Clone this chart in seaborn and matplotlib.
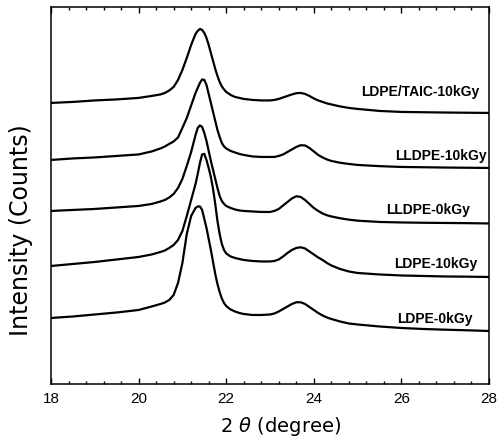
import numpy as np
import pandas as pd
import matplotlib
matplotlib.use('Agg')
import matplotlib.pyplot as plt
import matplotlib.ticker as mtick
import seaborn as sns

# 2 theta grid (degree), shared by all patterns
two_theta = [18.0, 18.5, 19.0, 19.5, 20.0, 20.3, 20.5, 20.6, 20.7, 20.8,
             20.9, 21.0, 21.1, 21.2, 21.3, 21.35, 21.4, 21.45, 21.5, 21.55,
             21.6, 21.65, 21.7, 21.75, 21.8, 21.85, 21.9, 21.95, 22.0, 22.1,
             22.2, 22.3, 22.4, 22.6, 22.8, 23.0, 23.1, 23.2, 23.3, 23.4,
             23.5, 23.6, 23.7, 23.8, 23.9, 24.0, 24.1, 24.2, 24.3, 24.4,
             24.6, 24.8, 25.0, 25.5, 26.0, 26.5, 27.0, 27.5, 28.0]

# intensities (counts, offset for stacking)
ldpe_taic_10 = [281, 282, 283.5, 284.5, 286, 288, 289.5, 291, 293.5, 297,
                304, 314, 326, 339, 350, 353, 355, 354, 351, 346,
                339, 331, 323, 315, 308, 302, 297.5, 294.5, 292, 289,
                287, 286, 285, 284, 283.5, 283.5, 284, 285, 286.5, 288,
                289.5, 290.7, 291, 290, 288, 285.5, 283.5, 282, 280.5, 279.5,
                277.5, 276, 275, 273, 272, 271.7, 271.4, 271.2, 271]
lldpe_10 = [224, 225.5, 226.5, 228, 229.5, 232.5, 235.5, 237.5, 240, 242.5,
            246.5, 256, 266, 278.5, 291, 296, 301, 304.5, 304, 299,
            290, 281, 272, 263, 254, 247, 241, 237.5, 235.5, 233,
            231.5, 230, 229, 227.5, 227, 227, 227, 228, 229.5, 232,
            234.5, 237, 238.7, 238.5, 236, 232.5, 229, 226.5, 224.5, 223,
            221.2, 220, 219, 217.8, 217, 216.7, 216.4, 216.2, 216]
lldpe_0 = [173, 174, 175, 176.5, 178, 180, 182.5, 184, 186.5, 190,
           196, 205, 218, 232, 249, 256, 258.5, 257, 251, 243,
           233, 223, 214, 205, 196, 188, 183, 180, 178, 176,
           174.5, 173.5, 173, 172.5, 172, 172, 173, 175, 178.5, 182,
           185.5, 187.7, 187, 184, 180, 176, 173, 170.5, 168.7, 167.5,
           165.7, 164.3, 163.3, 162, 161.5, 161.2, 161, 160.8, 160.5]
ldpe_10 = [118, 120, 122, 124.5, 127, 129.5, 132, 133.5, 136, 139,
           144, 153, 168, 184, 200, 210, 221, 229.5, 230, 224,
           216, 207, 195, 180, 163, 150, 140, 134, 130.5, 127.5,
           126, 125, 124, 123, 122.5, 122.5, 123, 124.5, 127.5, 131,
           134, 136, 136.7, 135.5, 132.5, 129.5, 126.5, 124, 121, 118.5,
           115, 112.5, 111, 109.5, 108.5, 108, 107.5, 107.3, 107]
ldpe_0 = [66, 67.5, 69.5, 71.5, 74, 77.5, 80, 81.5, 84, 89,
          101, 121, 150, 168, 176, 177.5, 177.5, 174, 165, 156,
          145, 134, 122, 110, 100, 92, 85.5, 81, 78, 74.5,
          72.5, 71, 70, 69, 69, 69.5, 70.5, 72.5, 75, 77.5,
          80, 81.7, 81.7, 80, 77, 74, 71, 68.5, 66.5, 65,
          62.5, 60.5, 59.5, 57.5, 56, 55, 54.3, 53.7, 53]

samples = ['LDPE/TAIC-10kGy', 'LLDPE-10kGy', 'LLDPE-0kGy', 'LDPE-10kGy', 'LDPE-0kGy']
curves = [ldpe_taic_10, lldpe_10, lldpe_0, ldpe_10, ldpe_0]
label_x = [27.79, 27.95, 27.57, 27.73, 27.63]
label_y = [293, 229, 175, 121, 66]

df = pd.concat([pd.DataFrame({'two_theta': two_theta, 'counts': c, 'sample': s})
                for s, c in zip(samples, curves)], ignore_index=True)

sns.set_theme(style='ticks')
plt.rcParams['font.family'] = ['DejaVu Sans']

fig = plt.figure(figsize=(5, 4.39), dpi=100)
ax = fig.add_axes([0.102, 0.123, 0.876, 0.859])

for s in samples:
    sns.lineplot(data=df[df['sample'] == s], x='two_theta', y='counts', color='black',
                 linewidth=1.6, estimator=None, sort=False, ax=ax)

for s, lx, ly in zip(samples, label_x, label_y):
    ax.text(lx, ly, s, ha='right', va='center', fontsize=10, fontweight='bold',
            family='Liberation Sans', color='black')

ax.set_xlim(18, 28)
ax.set_ylim(0, 377)
ax.xaxis.set_major_locator(mtick.MultipleLocator(2))
ax.xaxis.set_minor_locator(mtick.MultipleLocator(0.4))
ax.tick_params(axis='x', which='both', direction='in', top=True, bottom=True,
               color='black', width=1.0, labelcolor='black')
ax.tick_params(axis='x', which='major', length=4, labelsize=11, pad=5)
ax.tick_params(axis='x', which='minor', length=2.5)
ax.set_yticks([])
for lab in ax.get_xticklabels():
    lab.set_family('Liberation Sans')
for sp in ax.spines.values():
    sp.set_color('black')
    sp.set_linewidth(1.1)

ax.set_xlabel(r'2 $\theta$ (degree)', fontsize=14, color='black')
ax.set_ylabel('Intensity (Counts)', fontsize=17, color='black')
ax.xaxis.set_label_coords(0.523, -0.08)
ax.yaxis.set_label_coords(-0.042, 0.41)

plt.savefig('out.png', dpi=100)
